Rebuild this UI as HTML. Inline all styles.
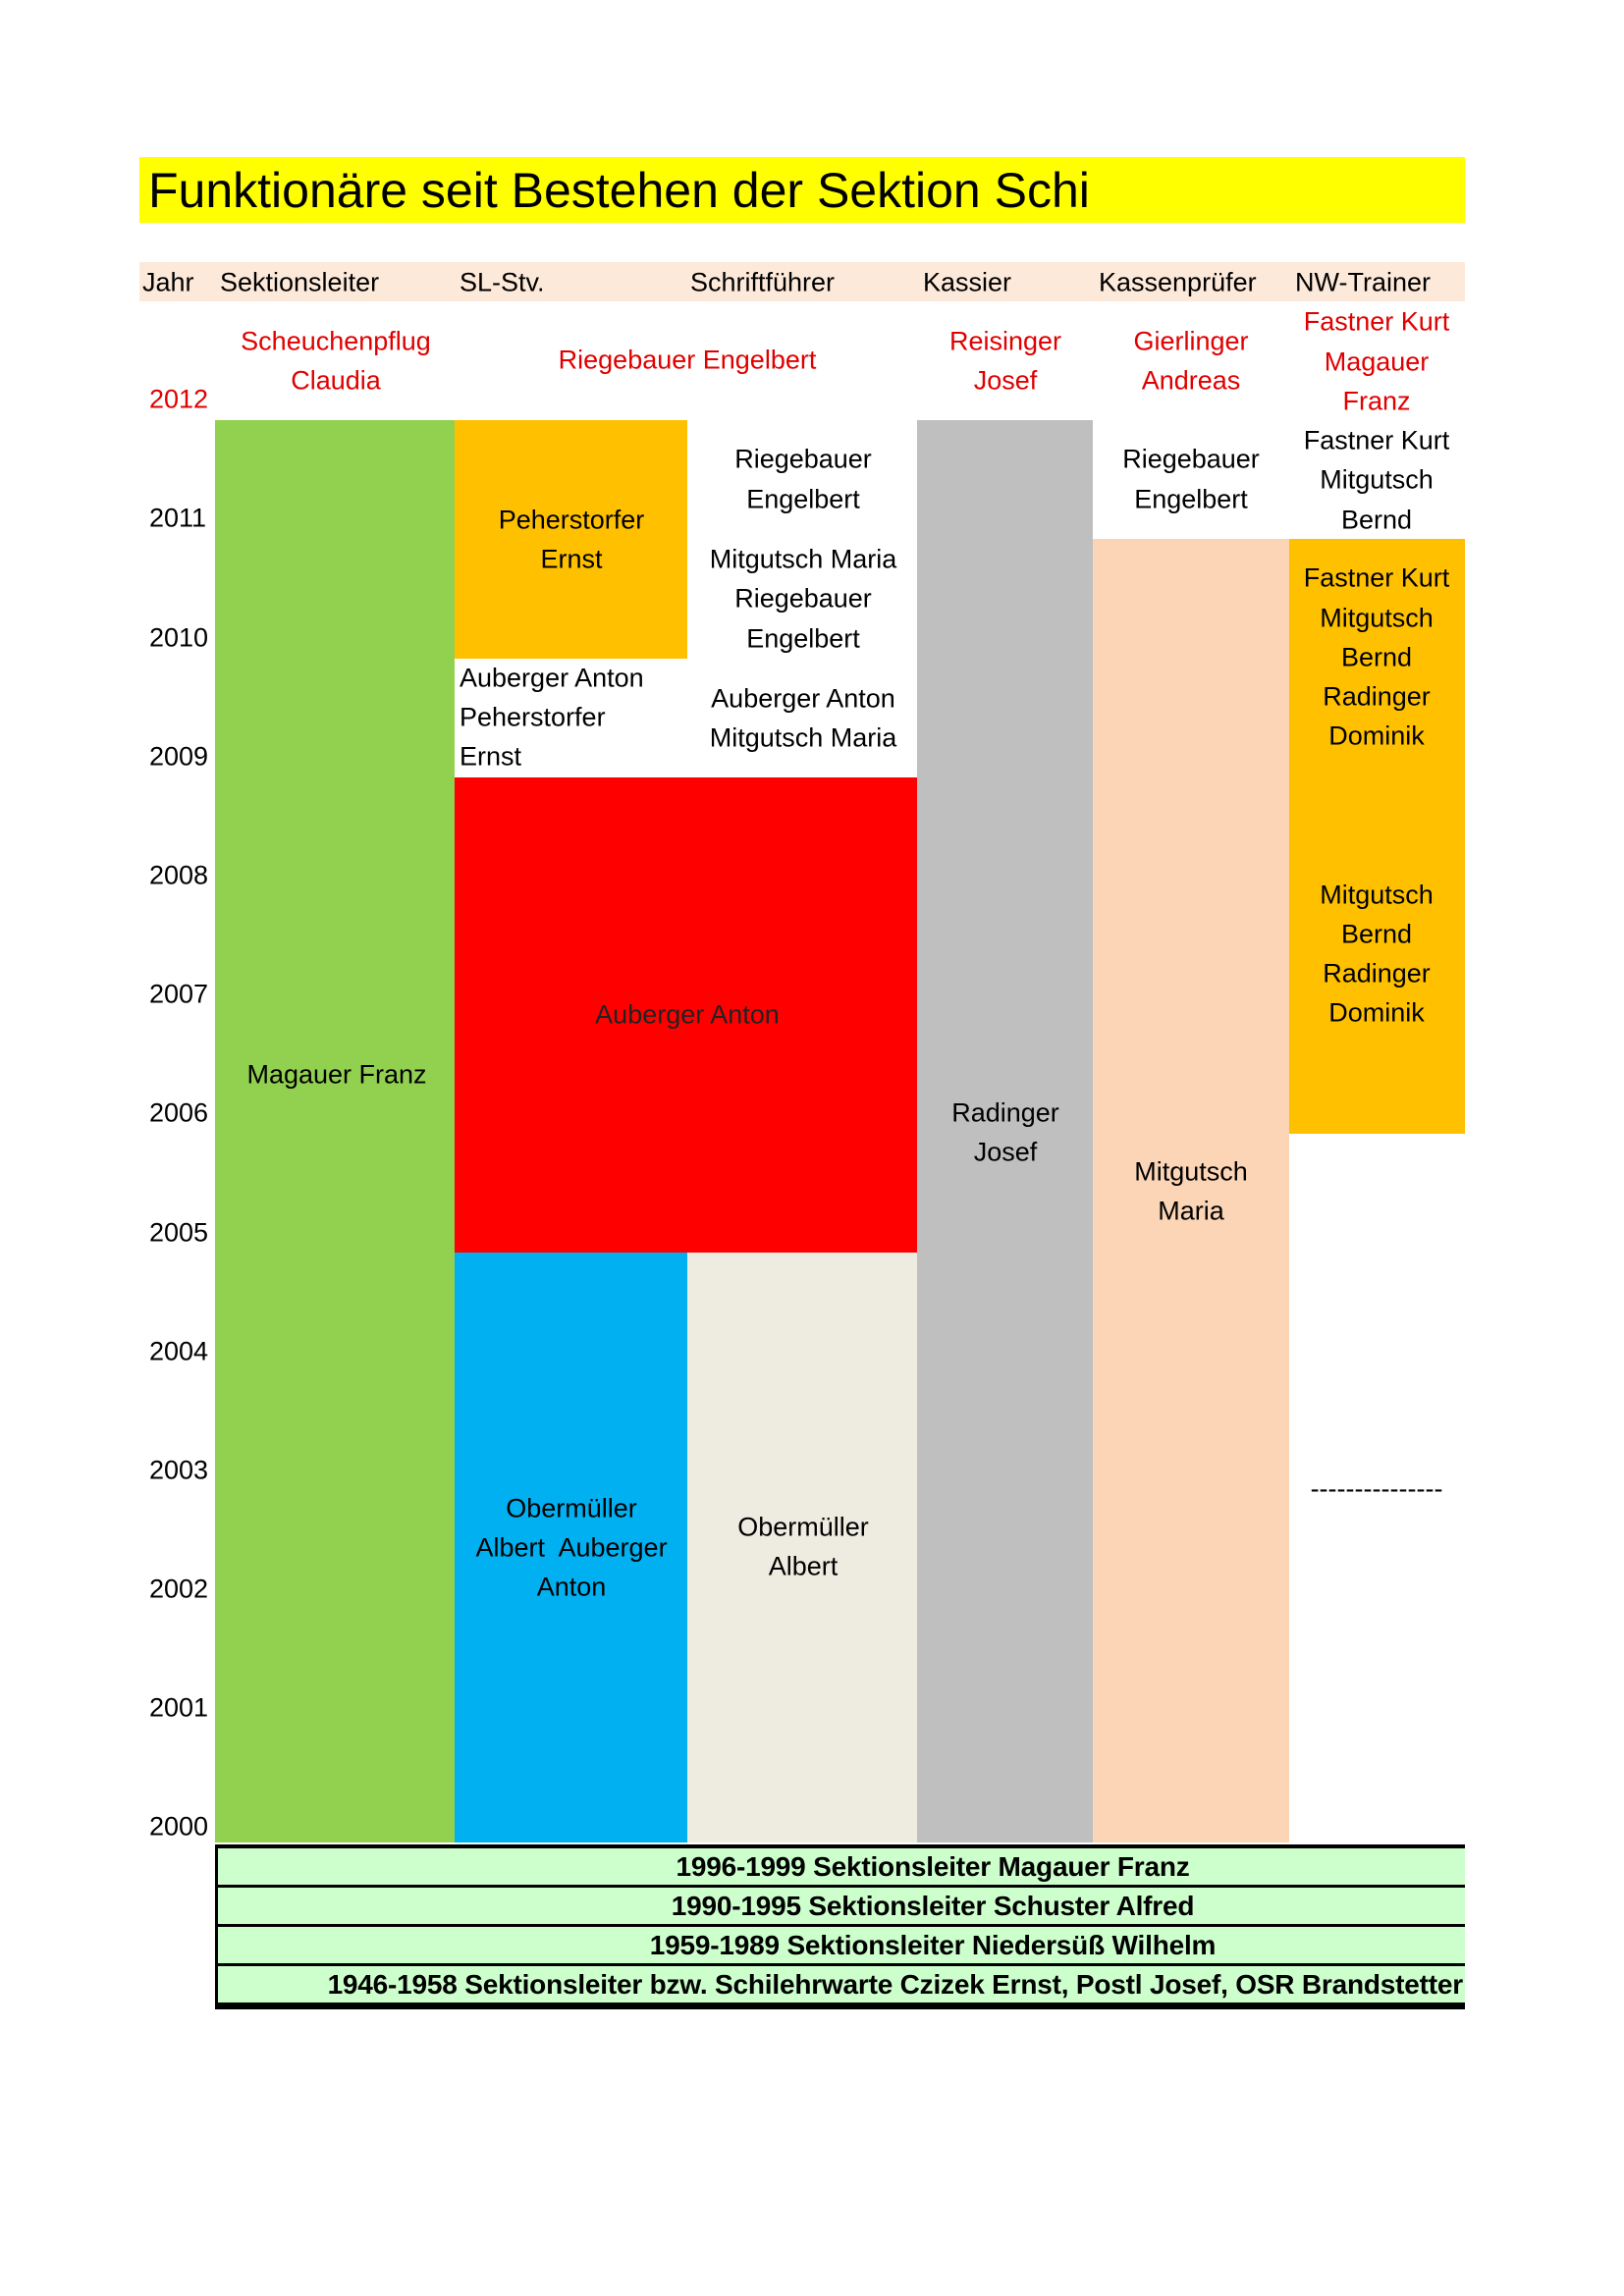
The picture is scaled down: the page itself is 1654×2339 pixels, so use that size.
<!DOCTYPE html>
<html><head><meta charset="utf-8"><style>
body{margin:0;width:1654px;height:2339px;background:#fff;position:relative;overflow:hidden;font-family:"Liberation Sans",sans-serif;}
div{position:absolute;}
.t{transform:translate(-50%,-50%);white-space:nowrap;font-size:27px;color:#000;}
.l{transform:translate(0,-50%);white-space:nowrap;font-size:27px;color:#000;}
.r{color:#e00000;}
.b{background:#000;}
.row{left:222px;width:1270px;height:37px;background:#ccffcc;font:bold 28px "Liberation Sans",sans-serif;line-height:37px;white-space:nowrap;letter-spacing:-0.2px;}
</style></head><body>
<div style="left:142px;top:160px;width:1350px;height:67px;background:#ffff00"></div>
<div class="l" style="left:151px;top:194px;font-size:50px">Funktionäre seit Bestehen der Sektion Schi</div>
<div style="left:142px;top:267px;width:1350px;height:40px;background:#fde9d9"></div>
<div class="l" style="left:145px;top:288px">Jahr</div>
<div class="l" style="left:224px;top:288px">Sektionsleiter</div>
<div class="l" style="left:468px;top:288px">SL-Stv.</div>
<div class="l" style="left:703px;top:288px">Schriftführer</div>
<div class="l" style="left:940px;top:288px">Kassier</div>
<div class="l" style="left:1119px;top:288px">Kassenprüfer</div>
<div class="l" style="left:1319px;top:288px">NW-Trainer</div>

<!-- blocks -->
<div style="left:219px;top:428px;width:244px;height:1449px;background:#92d050"></div>
<div style="left:463px;top:428px;width:237px;height:243px;background:#ffc000"></div>
<div style="left:463px;top:792px;width:471px;height:484px;background:#ff0000"></div>
<div style="left:463px;top:1276px;width:237px;height:601px;background:#00b0f0"></div>
<div style="left:700px;top:1276px;width:234px;height:601px;background:#eeebe0"></div>
<div style="left:934px;top:428px;width:179px;height:1449px;background:#bfbfbf"></div>
<div style="left:1113px;top:549px;width:200px;height:1328px;background:#fbd5b5"></div>
<div style="left:1313px;top:549px;width:179px;height:606px;background:#ffc000"></div>

<!-- years -->
<div class="l r" style="left:152px;top:407px">2012</div>
<div class="l" style="left:152px;top:528px">2011</div>
<div class="l" style="left:152px;top:650px">2010</div>
<div class="l" style="left:152px;top:771px">2009</div>
<div class="l" style="left:152px;top:892px">2008</div>
<div class="l" style="left:152px;top:1013px">2007</div>
<div class="l" style="left:152px;top:1134px">2006</div>
<div class="l" style="left:152px;top:1256px">2005</div>
<div class="l" style="left:152px;top:1377px">2004</div>
<div class="l" style="left:152px;top:1498px">2003</div>
<div class="l" style="left:152px;top:1619px">2002</div>
<div class="l" style="left:152px;top:1740px">2001</div>
<div class="l" style="left:152px;top:1861px">2000</div>

<!-- red top row -->
<div class="t r" style="left:342px;top:348px">Scheuchenpflug</div>
<div class="t r" style="left:342px;top:388px">Claudia</div>
<div class="t r" style="left:700px;top:367px">Riegebauer Engelbert</div>
<div class="t r" style="left:1024px;top:348px">Reisinger</div>
<div class="t r" style="left:1024px;top:388px">Josef</div>
<div class="t r" style="left:1213px;top:348px">Gierlinger</div>
<div class="t r" style="left:1213px;top:388px">Andreas</div>
<div class="t r" style="left:1402px;top:328px">Fastner Kurt</div>
<div class="t r" style="left:1402px;top:369px">Magauer</div>
<div class="t r" style="left:1402px;top:409px">Franz</div>

<div class="t" style="left:1402px;top:449px">Fastner Kurt</div>
<div class="t" style="left:1402px;top:489px">Mitgutsch</div>
<div class="t" style="left:1402px;top:530px">Bernd</div>

<div class="t" style="left:818px;top:468px">Riegebauer</div>
<div class="t" style="left:818px;top:509px">Engelbert</div>
<div class="t" style="left:818px;top:570px">Mitgutsch Maria</div>
<div class="t" style="left:818px;top:610px">Riegebauer</div>
<div class="t" style="left:818px;top:651px">Engelbert</div>
<div class="t" style="left:818px;top:712px">Auberger Anton</div>
<div class="t" style="left:818px;top:752px">Mitgutsch Maria</div>

<div class="t" style="left:582px;top:530px">Peherstorfer</div>
<div class="t" style="left:582px;top:570px">Ernst</div>
<div class="l" style="left:468px;top:691px">Auberger Anton</div>
<div class="l" style="left:468px;top:731px">Peherstorfer</div>
<div class="l" style="left:468px;top:771px">Ernst</div>

<div class="t" style="left:1213px;top:468px">Riegebauer</div>
<div class="t" style="left:1213px;top:509px">Engelbert</div>

<div class="t" style="left:1402px;top:589px">Fastner Kurt</div>
<div class="t" style="left:1402px;top:630px">Mitgutsch</div>
<div class="t" style="left:1402px;top:670px">Bernd</div>
<div class="t" style="left:1402px;top:710px">Radinger</div>
<div class="t" style="left:1402px;top:750px">Dominik</div>
<div class="t" style="left:1402px;top:912px">Mitgutsch</div>
<div class="t" style="left:1402px;top:952px">Bernd</div>
<div class="t" style="left:1402px;top:992px">Radinger</div>
<div class="t" style="left:1402px;top:1032px">Dominik</div>

<div class="t" style="left:700px;top:1034px;color:#222">Auberger Anton</div>
<div class="t" style="left:343px;top:1095px">Magauer Franz</div>
<div class="t" style="left:1024px;top:1134px">Radinger</div>
<div class="t" style="left:1024px;top:1174px">Josef</div>
<div class="t" style="left:1213px;top:1194px">Mitgutsch</div>
<div class="t" style="left:1213px;top:1234px">Maria</div>
<div class="t" style="left:1402px;top:1517px">---------------</div>
<div class="t" style="left:582px;top:1537px">Obermüller</div>
<div class="t" style="left:582px;top:1577px">Albert&nbsp; Auberger</div>
<div class="t" style="left:582px;top:1617px">Anton</div>
<div class="t" style="left:818px;top:1556px">Obermüller</div>
<div class="t" style="left:818px;top:1596px">Albert</div>

<!-- bottom table -->
<div class="b" style="left:219px;top:1879px;width:1273px;height:168px"></div>
<div class="row" style="top:1883px"><span style="position:absolute;left:728px;transform:translateX(-50%)">1996-1999 Sektionsleiter Magauer Franz</span></div>
<div class="row" style="top:1923px"><span style="position:absolute;left:728px;transform:translateX(-50%)">1990-1995 Sektionsleiter Schuster Alfred</span></div>
<div class="row" style="top:1963px"><span style="position:absolute;left:728px;transform:translateX(-50%)">1959-1989 Sektionsleiter Niedersüß Wilhelm</span></div>
<div class="row" style="top:2003px"><span style="position:absolute;right:2px">1946-1958 Sektionsleiter bzw. Schilehrwarte Czizek Ernst, Postl Josef, OSR Brandstetter</span></div>
</body></html>
